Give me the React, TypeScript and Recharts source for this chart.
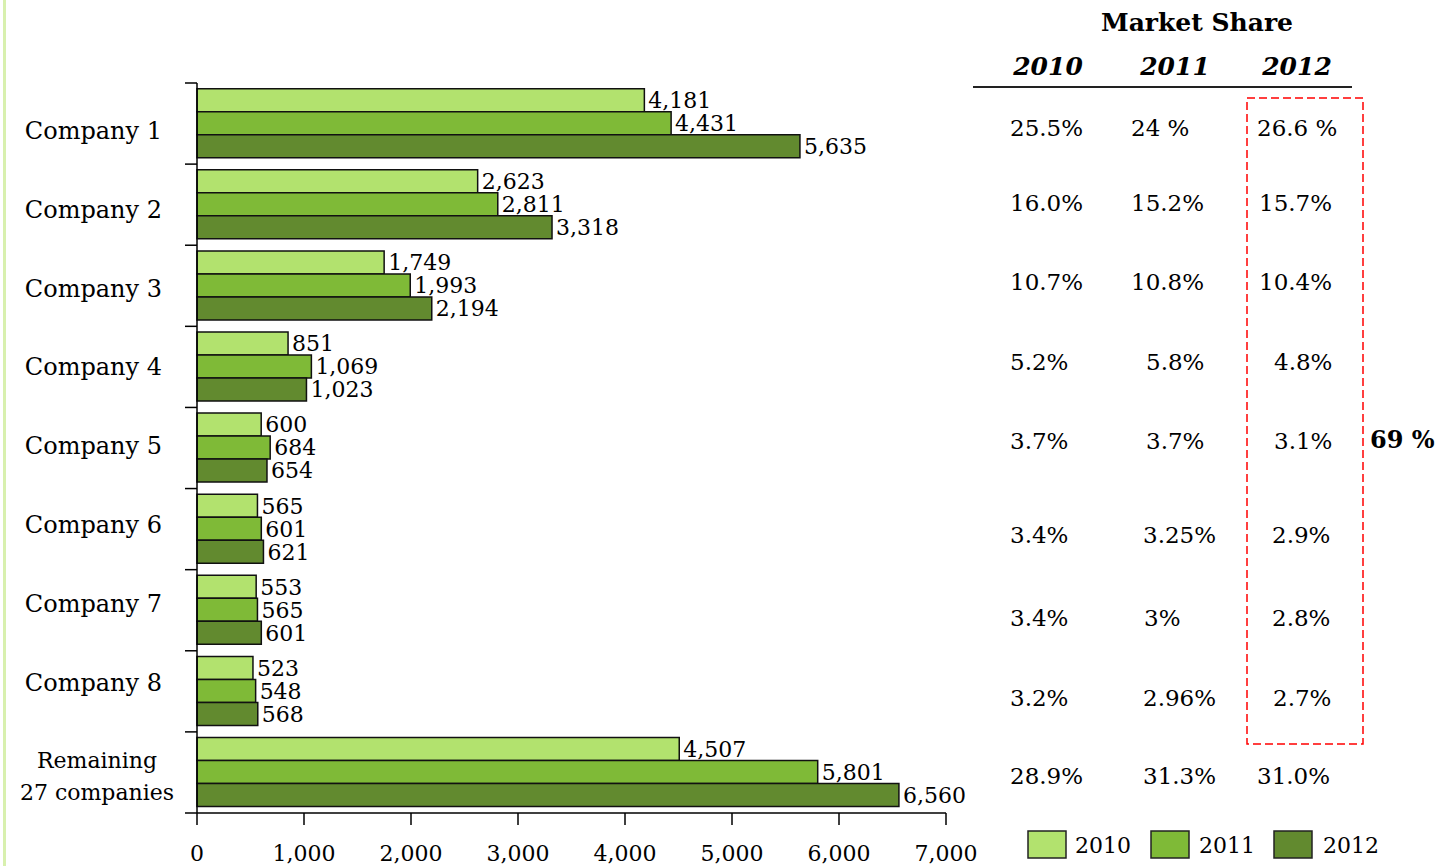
import React from 'react';
import { BarChart, Bar, XAxis, YAxis, LabelList } from 'recharts';

const companies = ['Company 1', 'Company 2', 'Company 3', 'Company 4', 'Company 5', 'Company 6', 'Company 7', 'Company 8', 'Remaining\n27 companies'];
const sales2010 = [4181, 2623, 1749, 851, 600, 565, 553, 523, 4507];
const sales2011 = [4431, 2811, 1993, 1069, 684, 601, 565, 548, 5801];
const sales2012 = [5635, 3318, 2194, 1023, 654, 621, 601, 568, 6560];
const xTicks = [0, 1000, 2000, 3000, 4000, 5000, 6000, 7000];

const share2010 = ['25.5%', '16.0%', '10.7%', '5.2%', '3.7%', '3.4%', '3.4%', '3.2%', '28.9%'];
const share2011 = ['24 %', '15.2%', '10.8%', '5.8%', '3.7%', '3.25%', '3%', '2.96%', '31.3%'];
const share2012 = ['26.6 %', '15.7%', '10.4%', '4.8%', '3.1%', '2.9%', '2.8%', '2.7%', '31.0%'];
const years = ['2010', '2011', '2012'];
const topShareTotal = '69 %';

const colors = ['#b2e26e', '#7fba37', '#628a2f'];
const FONT = "'Palatino Linotype', 'Book Antiqua', Palatino, 'DejaVu Serif', serif";

const data = companies.map((name, i) => ({
    name,
    y2010: sales2010[i],
    y2011: sales2011[i],
    y2012: sales2012[i],
}));

// chart layout
const W = 980;
const H = 866;
const TOP = 83;
const BOTTOM = 53;
const LEFT = 197;
const RIGHT = 34;
const band = (H - TOP - BOTTOM) / companies.length;

// table layout (text left edges per row, as in the original slide)
const rowY = [128, 203, 282, 362, 441, 535, 618, 698, 776];
const col2010X = [1010, 1010, 1010, 1010, 1010, 1010, 1010, 1010, 1010];
const col2011X = [1131, 1131, 1131, 1146, 1146, 1143, 1144, 1143, 1143];
const col2012X = [1257, 1259, 1259, 1274, 1274, 1272, 1272, 1273, 1257];

const fmt = (v: number) => v.toLocaleString('en-US');

const CategoryTick = (props: any) => {
    const { x, y, payload, index } = props;
    const lines = String(payload.value).split('\n');
    const axisX = LEFT;
    const top = y - band / 2;
    // slide labels sit on a slightly tighter pitch than the bars
    const shift = lines.length > 1 ? 4 : 7 - index * 2.3;
    return (
        <g>
            <line x1={axisX - 12} x2={axisX} y1={top} y2={top} stroke="#000" strokeWidth={1.5} />
            {index === companies.length - 1 && (
                <line x1={axisX - 12} x2={axisX} y1={top + band} y2={top + band} stroke="#000" strokeWidth={1.5} />
            )}
            {lines.map((l, k) => (
                <text
                    key={k}
                    x={lines.length > 1 ? 97 : x - 27}
                    y={y + shift + (k - (lines.length - 1) / 2) * 32}
                    dy="0.35em"
                    textAnchor={lines.length > 1 ? 'middle' : 'end'}
                    fontSize={lines.length > 1 ? 22 : 24}
                    fontFamily={FONT}
                    fill="#000"
                >
                    {l}
                </text>
            ))}
        </g>
    );
};

const ShareTable = () => {
    const cols = [share2010, share2011, share2012];
    const colX = [col2010X, col2011X, col2012X];
    return (
        <svg width={1454} height={866} style={{ position: 'absolute', left: 0, top: 0, pointerEvents: 'none' }}>
            <text x={1197} y={22} dy="0.35em" textAnchor="middle" fontSize={25} fontWeight="bold" fontFamily={FONT}>
                Market Share
            </text>
            {years.map((yr, i) => (
                <text key={yr} x={[1048, 1175, 1297][i]} y={66} dy="0.35em" textAnchor="middle" fontSize={25} fontWeight="bold" fontStyle="italic" fontFamily={FONT}>
                    {yr}
                </text>
            ))}
            <line x1={973} x2={1352} y1={87} y2={87} stroke="#222" strokeWidth={2} />
            {rowY.map((ry, r) => (
                <g key={r}>
                    {cols.map((c, ci) => (
                        <text key={ci} x={colX[ci][r]} y={ry} dy="0.35em" textAnchor="start" fontSize={23} fontFamily={FONT}>
                            {c[r]}
                        </text>
                    ))}
                </g>
            ))}
            <rect x={1247} y={98} width={116} height={646} fill="none" stroke="#ff0000" strokeWidth={1.5} strokeDasharray="8 4" />
            <text x={1370} y={440} dy="0.35em" fontSize={24} fontWeight="bold" fontFamily={FONT}>{topShareTotal}</text>
            {years.map((yr, i) => (
                <g key={'lg' + yr}>
                    <rect x={1028 + i * 123} y={831} width={38} height={27} fill={colors[i]} stroke="#222" strokeWidth={1.5} />
                    <text x={1075 + i * 124} y={845} dy="0.35em" fontSize={22} fontFamily={FONT}>{yr}</text>
                </g>
            ))}
        </svg>
    );
};

export default function App() {
    const keys = ['y2010', 'y2011', 'y2012'];
    return (
        <div style={{ position: 'absolute', left: 0, top: 0, width: 1454, height: 866, background: '#fff', overflow: 'hidden' }}>
            <div style={{ position: 'absolute', left: 3, top: 0, width: 3, height: 866, background: '#d8f0ae' }} />
            <div style={{ position: 'absolute', left: 0, top: 0 }}>
                <BarChart
                    width={W}
                    height={H}
                    data={data}
                    layout="vertical"
                    margin={{ top: TOP, right: RIGHT, bottom: 0, left: 0 }}
                    barCategoryGap="7%"
                    barGap={0}
                >
                    <XAxis
                        type="number"
                        domain={[0, 7000]}
                        ticks={xTicks}
                        tickFormatter={fmt}
                        height={BOTTOM}
                        axisLine={{ stroke: '#000', strokeWidth: 1.5 }}
                        tickLine={{ stroke: '#000', strokeWidth: 1.5 }}
                        tickSize={12}
                        tickMargin={20}
                        tick={{ fill: '#000', fontSize: 22, fontFamily: FONT }}
                    />
                    <YAxis
                        type="category"
                        dataKey="name"
                        width={LEFT}
                        axisLine={{ stroke: '#000', strokeWidth: 1.5 }}
                        tickLine={false}
                        tick={<CategoryTick />}
                        interval={0}
                    />
                    {keys.map((k, i) => (
                        <Bar key={k} dataKey={k} fill={colors[i]} stroke="#111" strokeWidth={1.5} isAnimationActive={false}>
                            <LabelList dataKey={k} position="right" offset={4} formatter={fmt} style={{ fill: '#000', fontSize: 22, fontFamily: FONT }} />
                        </Bar>
                    ))}
                </BarChart>
            </div>
            <ShareTable />
        </div>
    );
}
